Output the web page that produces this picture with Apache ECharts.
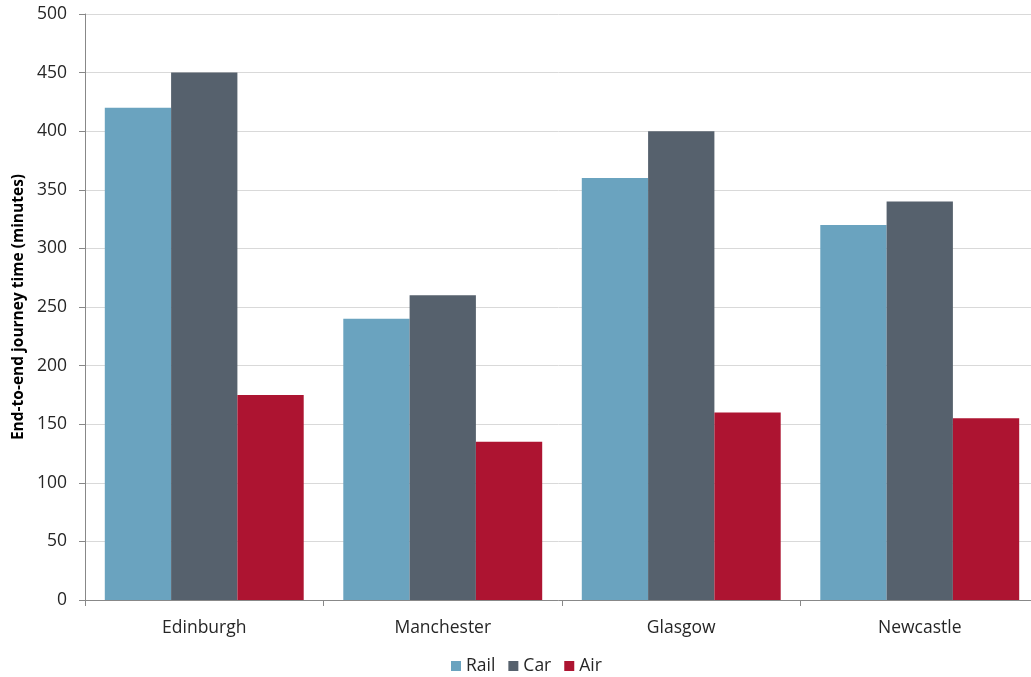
<!DOCTYPE html>
<html><head><meta charset="utf-8">
<script src="https://cdn.jsdelivr.net/npm/echarts@6/dist/echarts.min.js"></script>
<style>html,body{margin:0;padding:0;background:#fff}#c{width:1031px;height:677px}</style>
</head><body><div id="c"></div>
<script>
const categories = ['Edinburgh', 'Manchester', 'Glasgow', 'Newcastle'];
const rail = [420, 240, 360, 320];
const car = [450, 260, 400, 340];
const air = [175, 135, 160, 155];
const yTicks = [0, 50, 100, 150, 200, 250, 300, 350, 400, 450, 500];

const font = '"Open Sans", "Noto Sans", sans-serif';
const chart = echarts.init(document.getElementById('c'), null, {renderer: 'canvas'});
chart.setOption({
  animation: false,
  textStyle: {fontFamily: font},
  grid: {left: 85, top: 14, right: -8, bottom: 77, containLabel: false, outerBoundsMode: 'none'},
  legend: {
    data: ['Rail', 'Car', 'Air'],
    left: 446, top: 652,
    itemWidth: 10, itemHeight: 10, itemGap: 13,
    icon: 'rect',
    textStyle: {fontFamily: font, fontSize: 17.5, color: '#262626', padding: [0, 0, 0, 0]}
  },
  xAxis: {
    type: 'category', data: categories,
    axisLine: {lineStyle: {color: '#888888', width: 1}},
    axisTick: {show: true, length: 6, lineStyle: {color: '#888888'}},
    axisLabel: {fontFamily: font, fontSize: 17.5, color: '#262626', margin: 19}
  },
  yAxis: {
    type: 'value', min: yTicks[0], max: yTicks[yTicks.length - 1], interval: 50,
    name: 'End-to-end journey time (minutes)',
    nameLocation: 'middle', nameGap: 58, nameRotate: 90,
    nameTextStyle: {fontFamily: font, fontSize: 15.5, fontWeight: 'bold', color: '#000'},
    axisLine: {show: true, lineStyle: {color: '#888888'}},
    axisTick: {show: true, length: 6, lineStyle: {color: '#888888'}},
    axisLabel: {fontFamily: font, fontSize: 17.5, color: '#262626', margin: 18},
    splitLine: {lineStyle: {color: '#D9D9D9', width: 1}}
  },
  series: [
    {name: 'Rail', type: 'bar', data: rail, barGap: '0%', barCategoryGap: '16.6%', itemStyle: {color: '#6AA3BF'}},
    {name: 'Car', type: 'bar', data: car, barGap: '0%', barCategoryGap: '16.6%', itemStyle: {color: '#56616D'}},
    {name: 'Air', type: 'bar', data: air, barGap: '0%', barCategoryGap: '16.6%', itemStyle: {color: '#AD1431'}}
  ]
});
</script></body></html>
